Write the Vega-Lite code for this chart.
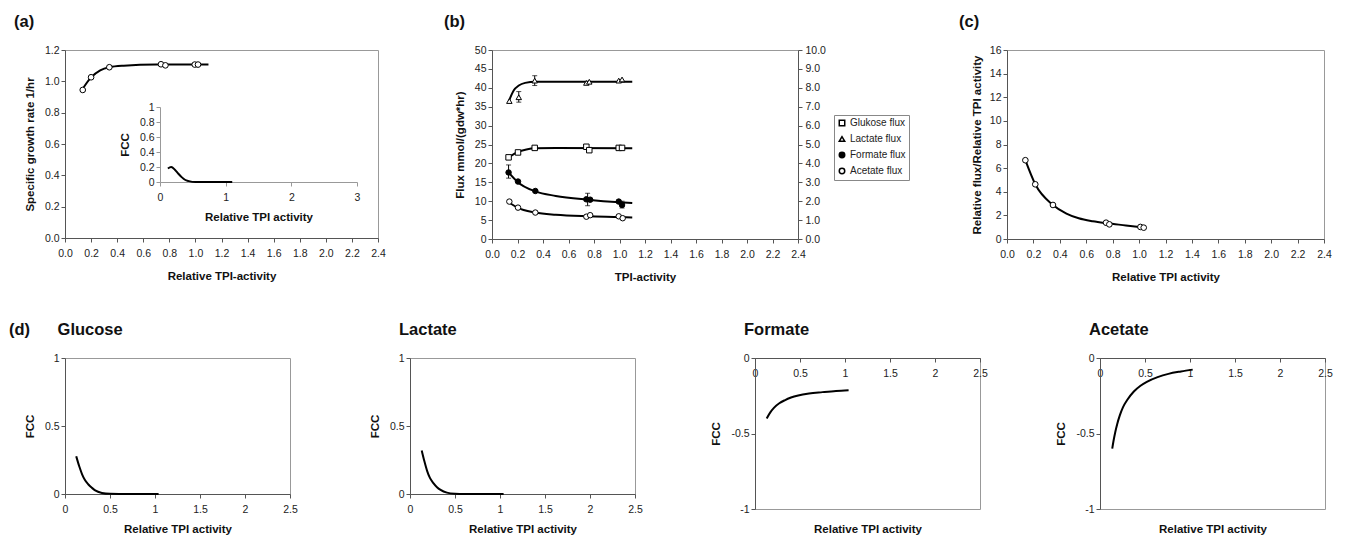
{
  "$schema": "https://vega.github.io/schema/vega-lite/v6.json",
  "background": "white",
  "padding": {"left": 8, "top": 13, "right": 5, "bottom": 5},
  "config": {
    "font": "Liberation Sans",
    "view": {"stroke": "#999", "strokeWidth": 1},
    "axis": {"grid": false, "labelFontSize": 10.5, "labelColor": "#222", "titleFontSize": 11.5, "titleFontWeight": "bold", "titleColor": "#111", "domainColor": "#555", "tickColor": "#555", "tickSize": 4, "labelFlush": false, "labelOverlap": false, "labelBound": false},
    "axisBottom": {"labelPadding": 6, "titlePadding": 9},
    "axisLeft": {"labelPadding": 2, "minExtent": 24, "maxExtent": 24, "titlePadding": 6},
    "title": {"fontSize": 16.5, "fontWeight": "bold", "anchor": "start", "frame": "group", "baseline": "bottom", "offset": 15, "color": "#111"}
  },
  "datasets": {
    "a_curve": [{"x":0.13,"y":0.945},{"x":0.2,"y":1.025},{"x":0.27,"y":1.07},{"x":0.34,"y":1.09},{"x":0.45,"y":1.1},{"x":0.7,"y":1.107},{"x":1.1,"y":1.107}],
    "a_pts": [{"x":0.136,"y":0.945},{"x":0.2,"y":1.026},{"x":0.34,"y":1.09},{"x":0.736,"y":1.109},{"x":0.77,"y":1.102},{"x":0.995,"y":1.107},{"x":1.02,"y":1.107}],
    "a_inset": [{"x":0.12,"y":0.18},{"x":0.17,"y":0.2},{"x":0.23,"y":0.16},{"x":0.28,"y":0.11},{"x":0.33,"y":0.065},{"x":0.38,"y":0.03},{"x":0.44,"y":0.012},{"x":0.54,"y":0},{"x":1.1,"y":0}],
    "b_curve": [
      {"series":"Lactate flux","x":0.13,"y":36.3},{"series":"Lactate flux","x":0.17,"y":39.3},{"series":"Lactate flux","x":0.21,"y":40.6},{"series":"Lactate flux","x":0.26,"y":41.3},{"series":"Lactate flux","x":0.34,"y":41.6},{"series":"Lactate flux","x":0.6,"y":41.6},{"series":"Lactate flux","x":1.1,"y":41.6},
      {"series":"Glukose flux","x":0.13,"y":21.6},{"series":"Glukose flux","x":0.2,"y":23.0},{"series":"Glukose flux","x":0.27,"y":23.7},{"series":"Glukose flux","x":0.34,"y":24.0},{"series":"Glukose flux","x":0.5,"y":24.05},{"series":"Glukose flux","x":1.1,"y":24.0},
      {"series":"Formate flux","x":0.13,"y":17.6},{"series":"Formate flux","x":0.2,"y":15.1},{"series":"Formate flux","x":0.34,"y":12.6},{"series":"Formate flux","x":0.5,"y":11.4},{"series":"Formate flux","x":0.75,"y":10.4},{"series":"Formate flux","x":1.0,"y":9.7},{"series":"Formate flux","x":1.1,"y":9.5},
      {"series":"Acetate flux","x":0.13,"y":9.8},{"series":"Acetate flux","x":0.2,"y":8.3},{"series":"Acetate flux","x":0.34,"y":7.0},{"series":"Acetate flux","x":0.5,"y":6.4},{"series":"Acetate flux","x":0.75,"y":6.0},{"series":"Acetate flux","x":1.0,"y":5.8},{"series":"Acetate flux","x":1.1,"y":5.7}
    ],
    "b_pts": [
      {"series":"Glukose flux","x":0.13,"y":21.6},{"series":"Glukose flux","x":0.204,"y":22.9},{"series":"Glukose flux","x":0.335,"y":24.1},{"series":"Glukose flux","x":0.74,"y":24.4},{"series":"Glukose flux","x":0.763,"y":23.5},{"series":"Glukose flux","x":0.994,"y":24.1},{"series":"Glukose flux","x":1.02,"y":24.1},
      {"series":"Lactate flux","x":0.136,"y":36.5},{"series":"Lactate flux","x":0.21,"y":37.5},{"series":"Lactate flux","x":0.335,"y":41.9},{"series":"Lactate flux","x":0.74,"y":41.3},{"series":"Lactate flux","x":0.763,"y":41.6},{"series":"Lactate flux","x":0.994,"y":41.9},{"series":"Lactate flux","x":1.02,"y":42.2},
      {"series":"Formate flux","x":0.13,"y":17.6},{"series":"Formate flux","x":0.204,"y":15.2},{"series":"Formate flux","x":0.34,"y":12.7},{"series":"Formate flux","x":0.74,"y":10.5},{"series":"Formate flux","x":0.77,"y":10.4},{"series":"Formate flux","x":0.994,"y":9.9},{"series":"Formate flux","x":1.02,"y":9.0},
      {"series":"Acetate flux","x":0.136,"y":9.9},{"series":"Acetate flux","x":0.204,"y":8.3},{"series":"Acetate flux","x":0.34,"y":7.0},{"series":"Acetate flux","x":0.74,"y":5.9},{"series":"Acetate flux","x":0.77,"y":6.3},{"series":"Acetate flux","x":0.994,"y":6.0},{"series":"Acetate flux","x":1.025,"y":5.5}
    ],
    "b_err": [{"x":0.21,"lo":36.2,"hi":39.0},{"x":0.335,"lo":40.6,"hi":43.2},{"x":0.13,"lo":16.1,"hi":19.6},{"x":0.75,"lo":8.8,"hi":12.1},{"x":1.02,"lo":8.2,"hi":10.0}],
    "c_curve": [{"x":0.139,"y":6.67},{"x":0.214,"y":4.63},{"x":0.348,"y":2.88},{"x":0.45,"y":2.15},{"x":0.543,"y":1.75},{"x":0.65,"y":1.5},{"x":0.76,"y":1.33},{"x":0.9,"y":1.15},{"x":1.035,"y":0.97}],
    "c_pts": [{"x":0.139,"y":6.67},{"x":0.214,"y":4.63},{"x":0.348,"y":2.88},{"x":0.75,"y":1.38},{"x":0.775,"y":1.24},{"x":1.01,"y":1.02},{"x":1.035,"y":0.96}],
    "d_gl": [{"x":0.125,"y":0.277},{"x":0.16,"y":0.2},{"x":0.19,"y":0.145},{"x":0.22,"y":0.105},{"x":0.26,"y":0.07},{"x":0.3,"y":0.045},{"x":0.335,"y":0.027},{"x":0.41,"y":0.008},{"x":0.5,"y":0.001},{"x":0.6,"y":0},{"x":1.04,"y":0}],
    "d_la": [{"x":0.13,"y":0.32},{"x":0.16,"y":0.24},{"x":0.19,"y":0.17},{"x":0.22,"y":0.12},{"x":0.26,"y":0.08},{"x":0.3,"y":0.05},{"x":0.34,"y":0.03},{"x":0.41,"y":0.01},{"x":0.5,"y":0.002},{"x":0.6,"y":0},{"x":1.04,"y":0}],
    "d_fo": [{"x":0.13,"y":-0.4},{"x":0.17,"y":-0.36},{"x":0.21,"y":-0.33},{"x":0.27,"y":-0.3},{"x":0.33,"y":-0.28},{"x":0.4,"y":-0.262},{"x":0.48,"y":-0.248},{"x":0.6,"y":-0.235},{"x":0.75,"y":-0.226},{"x":0.9,"y":-0.218},{"x":1.04,"y":-0.213}],
    "d_ac": [{"x":0.136,"y":-0.6},{"x":0.15,"y":-0.55},{"x":0.17,"y":-0.49},{"x":0.19,"y":-0.44},{"x":0.22,"y":-0.38},{"x":0.256,"y":-0.325},{"x":0.3,"y":-0.28},{"x":0.376,"y":-0.222},{"x":0.45,"y":-0.184},{"x":0.52,"y":-0.158},{"x":0.64,"y":-0.127},{"x":0.76,"y":-0.105},{"x":0.9,"y":-0.089},{"x":1.03,"y":-0.077}]
  },
  "spacing": 37,
  "vconcat": [
    {
      "bounds": "flush",
      "spacing": 50,
      "hconcat": [
        {
          "width": 313, "height": 188,
          "title": {"text": "(a)", "dx": -51},
          "layer": [
            {
              "layer": [
                {
                  "data": {"name": "a_curve"},
                  "mark": {"type": "line", "color": "black", "strokeWidth": 2, "interpolate": "monotone"},
                  "encoding": {
                    "x": {"field": "x", "type": "quantitative", "scale": {"domain": [0, 2.4], "nice": false}, "axis": {"orient": "bottom", "values": [0,0.2,0.4,0.6,0.8,1,1.2,1.4,1.6,1.8,2,2.2,2.4], "format": ".1f", "labelOverlap": false, "titlePadding": 12, "title": "Relative TPI-activity"}},
                    "y": {"field": "y", "type": "quantitative", "scale": {"domain": [0, 1.2], "nice": false}, "axis": {"orient": "left", "values": [0,0.2,0.4,0.6,0.8,1,1.2], "format": ".1f", "labelOverlap": false, "title": "Specific growth rate 1/hr"}}
                  }
                },
                {
                  "data": {"name": "a_pts"},
                  "mark": {"type": "point", "shape": "circle", "filled": true, "fill": "white", "stroke": "black", "strokeWidth": 1, "size": 32, "opacity": 1},
                  "encoding": {
                    "x": {"field": "x", "type": "quantitative", "scale": {"domain": [0, 2.4], "nice": false}, "axis": {"orient": "bottom", "values": [0,0.2,0.4,0.6,0.8,1,1.2,1.4,1.6,1.8,2,2.2,2.4], "format": ".1f", "labelOverlap": false, "titlePadding": 12, "title": "Relative TPI-activity"}},
                    "y": {"field": "y", "type": "quantitative", "scale": {"domain": [0, 1.2], "nice": false}, "axis": {"orient": "left", "values": [0,0.2,0.4,0.6,0.8,1,1.2], "format": ".1f", "labelOverlap": false, "title": "Specific growth rate 1/hr"}}
                  }
                }
              ]
            },
            {
              "data": {"name": "a_inset"},
              "mark": {"type": "line", "color": "black", "strokeWidth": 2, "interpolate": "monotone"},
              "encoding": {
                "x": {"field": "x", "type": "quantitative", "scale": {"domain": [0, 3], "nice": false, "range": [95, 292]}, "axis": {"orient": "bottom", "offset": -56, "values": [0,1,2,3], "format": "d", "labelOverlap": false, "title": "Relative TPI activity", "domainColor": "#999", "tickColor": "#999"}},
                "y": {"field": "y", "type": "quantitative", "scale": {"domain": [0, 1], "nice": false, "range": [132, 57]}, "axis": {"orient": "left", "offset": -95, "values": [0,0.2,0.4,0.6,0.8,1], "format": "~g", "labelOverlap": false, "title": "FCC", "domainColor": "#999", "tickColor": "#999"}}
              }
            }
          ],
          "resolve": {"scale": {"x": "independent", "y": "independent"}, "axis": {"x": "independent", "y": "independent"}}
        },
        {
          "width": 14, "height": 20,
          "data": {"values": []},
          "mark": {"type": "point", "opacity": 0},
          "view": {"stroke": null}
        },
        {
          "width": 306, "height": 189,
          "title": {"text": "(b)", "dx": -48},
          "layer": [
            {
              "layer": [
                {
                  "data": {"name": "b_curve"},
                  "mark": {"type": "line", "color": "black", "strokeWidth": 2, "interpolate": "monotone"},
                  "encoding": {
                    "x": {"field": "x", "type": "quantitative", "scale": {"domain": [0, 2.4], "nice": false}, "axis": {"orient": "bottom", "values": [0,0.2,0.4,0.6,0.8,1,1.2,1.4,1.6,1.8,2,2.2,2.4], "format": ".1f", "labelOverlap": false, "titlePadding": 12, "title": "TPI-activity"}},
                    "y": {"field": "y", "type": "quantitative", "scale": {"domain": [0, 50], "nice": false}, "axis": {"orient": "left", "values": [0,5,10,15,20,25,30,35,40,45,50], "format": "d", "labelOverlap": false, "title": "Flux mmol/(gdw*hr)", "titlePadding": 3}},
                    "detail": {"field": "series", "type": "nominal"}
                  }
                },
                {
                  "data": {"name": "b_err"},
                  "mark": {"type": "rule", "color": "black", "strokeWidth": 1},
                  "encoding": {
                    "x": {"field": "x", "type": "quantitative", "scale": {"domain": [0, 2.4], "nice": false}, "axis": {"orient": "bottom", "values": [0,0.2,0.4,0.6,0.8,1,1.2,1.4,1.6,1.8,2,2.2,2.4], "format": ".1f", "labelOverlap": false, "titlePadding": 12, "title": "TPI-activity"}},
                    "y": {"field": "lo", "type": "quantitative", "scale": {"domain": [0, 50], "nice": false}, "axis": {"orient": "left", "values": [0,5,10,15,20,25,30,35,40,45,50], "format": "d", "labelOverlap": false, "title": "Flux mmol/(gdw*hr)", "titlePadding": 3}},
                    "y2": {"field": "hi"}
                  }
                },
                {
                  "data": {"name": "b_err"},
                  "mark": {"type": "tick", "orient": "horizontal", "color": "black", "size": 5, "thickness": 1},
                  "encoding": {
                    "x": {"field": "x", "type": "quantitative", "scale": {"domain": [0, 2.4], "nice": false}, "axis": {"orient": "bottom", "values": [0,0.2,0.4,0.6,0.8,1,1.2,1.4,1.6,1.8,2,2.2,2.4], "format": ".1f", "labelOverlap": false, "titlePadding": 12, "title": "TPI-activity"}},
                    "y": {"field": "hi", "type": "quantitative", "scale": {"domain": [0, 50], "nice": false}, "axis": {"orient": "left", "values": [0,5,10,15,20,25,30,35,40,45,50], "format": "d", "labelOverlap": false, "title": "Flux mmol/(gdw*hr)", "titlePadding": 3}}
                  }
                },
                {
                  "data": {"name": "b_err"},
                  "mark": {"type": "tick", "orient": "horizontal", "color": "black", "size": 5, "thickness": 1},
                  "encoding": {
                    "x": {"field": "x", "type": "quantitative", "scale": {"domain": [0, 2.4], "nice": false}, "axis": {"orient": "bottom", "values": [0,0.2,0.4,0.6,0.8,1,1.2,1.4,1.6,1.8,2,2.2,2.4], "format": ".1f", "labelOverlap": false, "titlePadding": 12, "title": "TPI-activity"}},
                    "y": {"field": "lo", "type": "quantitative", "scale": {"domain": [0, 50], "nice": false}, "axis": {"orient": "left", "values": [0,5,10,15,20,25,30,35,40,45,50], "format": "d", "labelOverlap": false, "title": "Flux mmol/(gdw*hr)", "titlePadding": 3}}
                  }
                },
                {
                  "data": {"name": "b_pts"},
                  "mark": {"type": "point", "filled": true, "stroke": "black", "strokeWidth": 1, "size": 30, "opacity": 1},
                  "encoding": {
                    "x": {"field": "x", "type": "quantitative", "scale": {"domain": [0, 2.4], "nice": false}, "axis": {"orient": "bottom", "values": [0,0.2,0.4,0.6,0.8,1,1.2,1.4,1.6,1.8,2,2.2,2.4], "format": ".1f", "labelOverlap": false, "titlePadding": 12, "title": "TPI-activity"}},
                    "y": {"field": "y", "type": "quantitative", "scale": {"domain": [0, 50], "nice": false}, "axis": {"orient": "left", "values": [0,5,10,15,20,25,30,35,40,45,50], "format": "d", "labelOverlap": false, "title": "Flux mmol/(gdw*hr)", "titlePadding": 3}},
                    "shape": {"field": "series", "type": "nominal", "scale": {"domain": ["Glukose flux", "Lactate flux", "Formate flux", "Acetate flux"], "range": ["square", "triangle-up", "circle", "circle"]}, "legend": {"orient": "none", "legendX": 769, "legendY": 65, "title": null, "strokeColor": "#888", "fillColor": "white", "padding": 3, "labelFontSize": 10, "labelColor": "#222", "symbolSize": 30, "rowPadding": 4, "labelOffset": 3, "encode": {"symbols": {"update": {"stroke": {"value": "black"}, "strokeWidth": {"value": 1}}}}}},
                    "fill": {"field": "series", "type": "nominal", "scale": {"domain": ["Glukose flux", "Lactate flux", "Formate flux", "Acetate flux"], "range": ["white", "white", "black", "white"]}, "legend": {"orient": "none", "legendX": 769, "legendY": 65, "title": null, "strokeColor": "#888", "fillColor": "white", "padding": 3, "labelFontSize": 10, "labelColor": "#222", "symbolSize": 30, "rowPadding": 4, "labelOffset": 3, "encode": {"symbols": {"update": {"stroke": {"value": "black"}, "strokeWidth": {"value": 1}}}}}}
                  }
                }
              ]
            },
            {
              "data": {"values": [{"r": 0}, {"r": 10}]},
              "mark": {"type": "point", "opacity": 0},
              "encoding": {
                "y": {"field": "r", "type": "quantitative", "scale": {"domain": [0, 10], "nice": false}, "axis": {"orient": "right", "values": [0,1,2,3,4,5,6,7,8,9,10], "format": ".1f", "labelOverlap": false, "title": null, "labelPadding": 3}}
              }
            }
          ],
          "resolve": {"scale": {"y": "independent"}, "axis": {"y": "independent"}}
        },
        {
          "width": 109, "height": 20,
          "data": {"values": []},
          "mark": {"type": "point", "opacity": 0},
          "view": {"stroke": null}
        },
        {
          "width": 317, "height": 189,
          "title": {"text": "(c)", "dx": -48},
          "layer": [
            {
              "data": {"name": "c_curve"},
              "mark": {"type": "line", "color": "black", "strokeWidth": 2, "interpolate": "monotone"},
              "encoding": {
                "x": {"field": "x", "type": "quantitative", "scale": {"domain": [0, 2.4], "nice": false}, "axis": {"orient": "bottom", "values": [0,0.2,0.4,0.6,0.8,1,1.2,1.4,1.6,1.8,2,2.2,2.4], "format": ".1f", "labelOverlap": false, "titlePadding": 12, "title": "Relative TPI activity"}},
                "y": {"field": "y", "type": "quantitative", "scale": {"domain": [0, 16], "nice": false}, "axis": {"orient": "left", "values": [0,2,4,6,8,10,12,14,16], "format": "d", "labelOverlap": false, "title": "Relative flux/Relative TPI activity", "titlePadding": 1}}
              }
            },
            {
              "data": {"name": "c_pts"},
              "mark": {"type": "point", "shape": "circle", "filled": true, "fill": "white", "stroke": "black", "strokeWidth": 1, "size": 32, "opacity": 1},
              "encoding": {
                "x": {"field": "x", "type": "quantitative", "scale": {"domain": [0, 2.4], "nice": false}, "axis": {"orient": "bottom", "values": [0,0.2,0.4,0.6,0.8,1,1.2,1.4,1.6,1.8,2,2.2,2.4], "format": ".1f", "labelOverlap": false, "titlePadding": 12, "title": "Relative TPI activity"}},
                "y": {"field": "y", "type": "quantitative", "scale": {"domain": [0, 16], "nice": false}, "axis": {"orient": "left", "values": [0,2,4,6,8,10,12,14,16], "format": "d", "labelOverlap": false, "title": "Relative flux/Relative TPI activity", "titlePadding": 1}}
              }
            }
          ]
        }
      ]
    },
    {
      "bounds": "flush",
      "spacing": 120,
      "hconcat": [
        {
          "width": 225, "height": 136,
          "title": {"text": "(d)\u00a0\u00a0\u00a0\u00a0\u00a0\u00a0Glucose", "dx": -56},
          "data": {"name": "d_gl"},
          "mark": {"type": "line", "color": "black", "strokeWidth": 2, "interpolate": "monotone"},
          "encoding": {
            "x": {"field": "x", "type": "quantitative", "scale": {"domain": [0, 2.5], "nice": false}, "axis": {"values": [0,0.5,1,1.5,2,2.5], "format": "~g", "labelOverlap": false, "title": "Relative TPI activity"}},
            "y": {"field": "y", "type": "quantitative", "scale": {"domain": [0, 1], "nice": false}, "axis": {"values": [0,0.5,1], "format": "~g", "labelOverlap": false, "title": "FCC"}}
          }
        },
        {
          "width": 225, "height": 136,
          "title": {"text": "Lactate", "dx": -11},
          "data": {"name": "d_la"},
          "mark": {"type": "line", "color": "black", "strokeWidth": 2, "interpolate": "monotone"},
          "encoding": {
            "x": {"field": "x", "type": "quantitative", "scale": {"domain": [0, 2.5], "nice": false}, "axis": {"values": [0,0.5,1,1.5,2,2.5], "format": "~g", "labelOverlap": false, "title": "Relative TPI activity"}},
            "y": {"field": "y", "type": "quantitative", "scale": {"domain": [0, 1], "nice": false}, "axis": {"values": [0,0.5,1], "format": "~g", "labelOverlap": false, "title": "FCC"}}
          }
        },
        {
          "width": 225, "height": 151,
          "title": {"text": "Formate", "dx": -11},
          "data": {"name": "d_fo"},
          "mark": {"type": "line", "color": "black", "strokeWidth": 2, "interpolate": "monotone"},
          "encoding": {
            "x": {"field": "x", "type": "quantitative", "scale": {"domain": [0, 2.5], "nice": false}, "axis": {"values": [0,0.5,1,1.5,2,2.5], "format": "~g", "labelOverlap": false, "offset": -151, "titleY": 171, "titleBaseline": "middle", "title": "Relative TPI activity"}},
            "y": {"field": "y", "type": "quantitative", "scale": {"domain": [-1, 0], "nice": false}, "axis": {"values": [-1,-0.5,0], "labelOverlap": false, "labelExpr": "replace(format(datum.value, '~g'), '−', '-')", "title": "FCC", "titlePadding": 10}}
          }
        },
        {
          "width": 225, "height": 151,
          "title": {"text": "Acetate", "dx": -11},
          "data": {"name": "d_ac"},
          "mark": {"type": "line", "color": "black", "strokeWidth": 2, "interpolate": "monotone"},
          "encoding": {
            "x": {"field": "x", "type": "quantitative", "scale": {"domain": [0, 2.5], "nice": false}, "axis": {"values": [0,0.5,1,1.5,2,2.5], "format": "~g", "labelOverlap": false, "offset": -151, "titleY": 171, "titleBaseline": "middle", "title": "Relative TPI activity"}},
            "y": {"field": "y", "type": "quantitative", "scale": {"domain": [-1, 0], "nice": false}, "axis": {"values": [-1,-0.5,0], "labelOverlap": false, "labelExpr": "replace(format(datum.value, '~g'), '−', '-')", "title": "FCC", "titlePadding": 10}}
          }
        }
      ]
    }
  ]
}
